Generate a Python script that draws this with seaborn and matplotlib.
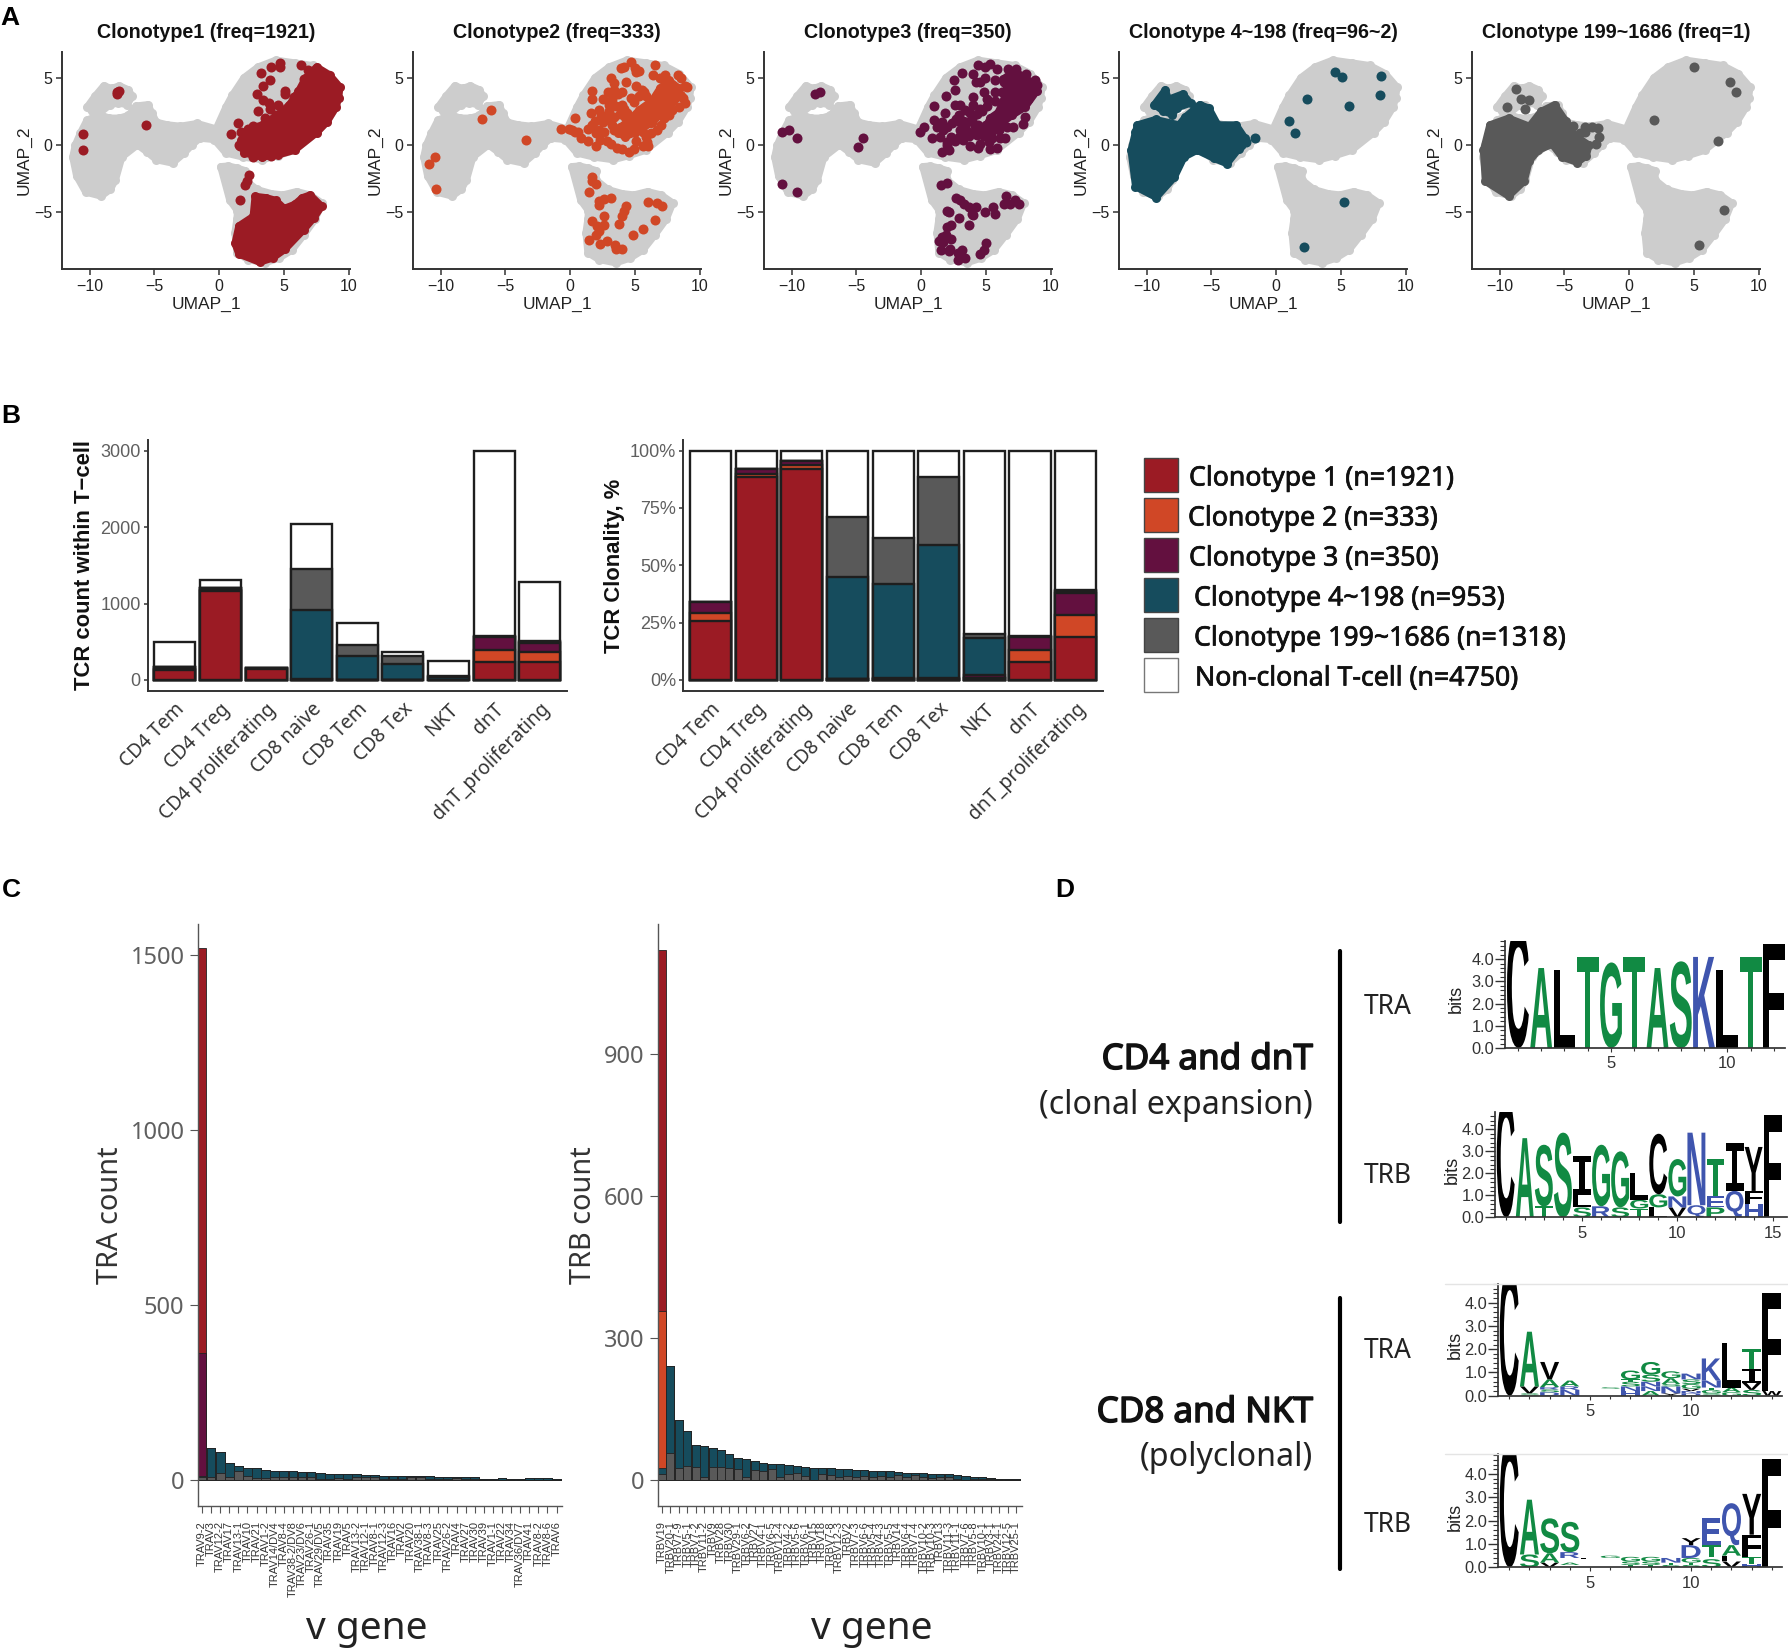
import numpy as np
import pandas as pd
import matplotlib
matplotlib.use("Agg")
import matplotlib.pyplot as plt
import matplotlib.patheffects as pe
import seaborn as sns
from matplotlib.font_manager import FontProperties
from matplotlib.patches import PathPatch, Rectangle
from matplotlib.textpath import TextPath
from matplotlib.ticker import MultipleLocator
from matplotlib.transforms import Affine2D

sns.set_theme(style="ticks")
plt.rcParams["font.family"] = ["Liberation Sans", "DejaVu Sans"]

W, H = 1788, 1650

# colours
RED = "#9B1B24"
ORANGE = "#D04726"
PURPLE = "#63103F"
TEAL = "#164C5D"
GREY = "#595959"
CLOUD = "#CDCDCD"
INK = "#333333"
LOGO_GREEN = "#118A43"
LOGO_BLUE = "#3F55AE"

# ---- panel A: UMAP shapes ----
CLOUD_MAIN_X = [-9.1, -10.3, -11.0, -11.3, -11.1, -10.7, -10.2, -9.3, -9.8, -10.2, -9.6, -8.9, -8.3, -7.7, -7.0, -6.7, -7.1, -7.8, -8.4, -9.3,
                -8.5, -7.7, -7.0, -6.4, -5.5, -5.2, -4.85, -4.0, -3.0, -1.7, -0.25, 0.5, 1.0, 1.9, 3.0, 4.35, 5.8, 7.2, 8.4, 9.3, 9.2, 9.0, 8.3, 7.5, 5.8, 4.5, 3.3, 1.8, 0.5, -0.4, -1.5, -2.1, -2.7, -3.6, -4.85, -5.6, -6.3, -7.5, -8.0, -8.4]
CLOUD_MAIN_Y = [-3.8, -3.5, -2.3, -0.9, 0.0, 0.9, 1.85, 2.2, 2.5, 2.8, 3.6, 4.4, 4.2, 4.4, 4.1, 3.6, 3.0, 3.1, 3.0, 2.3,
                2.0, 2.0, 2.2, 2.9, 3.0, 2.4, 1.7, 1.5, 1.4, 1.6, 1.2, 2.8, 3.7, 5.0, 5.8, 6.3, 6.1, 5.9, 5.3, 4.3, 3.5, 2.8, 1.7, 0.9, -0.4, -0.8, -1.1, -0.9, -0.6, 0.4, 0.5, 0.0, -0.6, -1.35, -1.1, -0.5, 0.0, -0.9, -2.6, -3.3]
CLOUD_LOW_X = [0.1, 0.7, 1.35, 2.0, 2.0, 2.9, 4.0, 4.9, 5.95, 7.0, 7.9, 7.4, 6.5, 5.6, 4.6, 3.5, 2.2, 1.35, 1.2, 1.35, 1.4, 0.8]
CLOUD_LOW_Y = [-1.6, -1.55, -1.7, -1.9, -2.6, -3.3, -3.6, -3.7, -3.45, -3.7, -4.3, -5.5, -6.7, -7.8, -8.4, -8.75, -8.5, -8.0, -6.5, -5.5, -4.9, -4.1]

RED_UP_X = [7.5, 8.5, 9.3, 9.2, 9.0, 8.3, 7.5, 5.8, 4.5, 3.3, 1.9, 1.7, 2.4, 3.6, 4.6, 5.4, 6.1, 6.65]
RED_UP_Y = [5.8, 5.2, 4.3, 3.5, 2.8, 1.7, 0.9, -0.4, -0.75, -0.9, -0.6, 0.4, 1.0, 1.7, 2.3, 3.0, 4.0, 5.0]
RED_LOW_X = [1.2, 1.5, 2.6, 2.75, 3.6, 4.35, 5.0, 5.8, 6.4, 7.0, 7.9, 7.3, 6.5, 5.06, 4.1, 3.1, 1.5]
RED_LOW_Y = [-7.3, -6.0, -5.3, -3.8, -3.9, -4.1, -4.7, -4.4, -3.9, -3.7, -4.55, -5.4, -6.3, -7.75, -8.4, -8.7, -8.1]
RED_DOTS_X = [4.7, 3.95, 3.2, 6.3, 4.7, 3.9, 3.4, 2.9, 3.35, 5.05, 5.05, 5.75, 3.8, 4.55, 4.65, 2.95, 3.9, 1.45, 0.9, 1.7, 2.2, 3.0, 4.35, 6.85, 6.5, 2.25, 2.1, 2.0, 1.6, -10.5, -10.5, -7.85, -7.7, -7.9, -5.65, 1.6, 2.3, 2.6, 3.3, 4.0, 2.4, 2.6, 1.5, 2.0, 3.5]
RED_DOTS_Y = [6.1, 5.8, 5.35, 5.9, 5.8, 4.85, 4.35, 3.75, 3.35, 4.0, 3.75, 3.55, 3.1, 2.95, 2.3, 2.5, 2.65, 1.6, 0.8, 1.0, 1.2, 1.35, 2.2, 5.55, 4.9, -2.25, -2.65, -3.0, -4.05, 0.85, -0.4, 3.95, 4.0, 3.75, 1.45, -0.1, 0.8, -0.9, -0.85, -0.85, 1.0, 1.4, 0.0, -0.3, 2.0]

ORANGE_CORE_X = [3.7, 4.2, 5.0, 6.2, 7.4, 8.5, 8.4, 7.6, 6.9, 6.3, 5.3, 4.5, 3.8]
ORANGE_CORE_Y = [0.9, 0.6, 0.9, 1.6, 2.6, 3.7, 4.2, 4.8, 4.2, 3.3, 2.6, 1.8, 1.3]
ORANGE_DOTS_X = [4.7, 4.1, 3.9, 5.0, 5.3, 5.1, 6.5, 3.1, 3.4, 4.3, 5.1, 5.5, 5.7, 1.7, 1.7, 2.5, 2.9, 3.4, 3.7, 4.0, 3.2, 2.95, 3.5, 4.0, 4.1, 4.9, 4.7, 5.3, 5.8, 6.4, 6.9, 7.3, 8.5, 8.8, 9.0, 8.3, 8.7, 8.8, 8.4, 7.8, 7.6, 7.2, 7.0, 6.7, 6.2, 5.8, 6.3, 5.9, 5.6, 5.3, 5.6, 5.9, 6.0, 5.6, 5.1, 4.9, 4.5, 4.0, 3.6, 3.1, 2.8, 2.3, 1.4, 0.8, 0.6, 0.1, -0.7, -0.1, 0.4, 1.4, 1.7, 2.2, 2.5, 2.9, 3.2, 3.4, 2.6, 2.0, 1.9, 0.4, 1.6, 2.2, 2.4, 3.0, 3.4, 3.8, 4.2, 4.4, 4.8, 2.0,
                   -6.8, -6.1, -3.4, -10.45, -10.85, -10.35,
                   1.7, 1.7, 2.0, 1.45, 3.1, 2.6, 2.2, 2.2, 4.3, 4.1, 4.0, 2.6, 1.7, 6.0, 6.65, 7.1, 6.5, 5.6, 4.8, 3.75, 2.6, 2.05, 2.2, 1.95, 1.45, 2.3, 2.85, 3.45, 3.55, 4.0]
ORANGE_DOTS_Y = [6.15, 5.8, 5.7, 5.75, 5.5, 5.4, 5.9, 5.0, 4.6, 4.7, 4.4, 4.1, 3.9, 4.0, 3.4, 3.4, 3.9, 4.1, 3.8, 3.9, 3.4, 3.0, 2.9, 3.0, 2.7, 3.2, 3.5, 3.6, 3.6, 5.2, 5.0, 5.2, 5.0, 4.4, 4.3, 5.2, 3.5, 3.1, 2.8, 2.6, 2.2, 2.0, 1.5, 1.1, 0.9, 0.6, 1.7, 2.1, 1.8, 1.3, 1.0, 0.2, -0.1, -0.1, 0.3, -0.3, -0.5, -0.3, -0.2, 0.1, 0.3, 0.4, 0.3, 0.5, 1.0, 1.1, 1.2, 1.2, 1.0, 1.2, 1.5, 1.1, 1.7, 1.9, 1.5, 1.1, 1.0, 0.9, 1.8, 2.0, 2.4, 2.6, 2.2, 2.5, 2.1, 2.3, 2.1, 2.4, 2.0, -0.1,
                   1.9, 2.6, 0.4, -0.9, -1.4, -3.25,
                   -2.35, -2.7, -2.9, -3.45, -3.95, -4.0, -4.15, -4.45, -4.55, -4.9, -5.3, -5.25, -5.65, -4.25, -4.3, -4.55, -5.6, -6.2, -6.7, -5.85, -5.95, -6.0, -6.4, -6.7, -7.05, -7.35, -7.15, -7.4, -7.7, -7.75]

PURPLE_CORE_X = [6.3, 7.2, 8.6, 8.9, 8.0, 7.0, 5.8, 5.0, 5.3, 5.9, 6.4, 6.6]
PURPLE_CORE_Y = [4.9, 5.5, 4.6, 4.0, 2.8, 2.2, 1.3, 1.4, 2.0, 2.4, 3.4, 4.2]
PURPLE_DOTS_X = [4.4, 4.9, 5.3, 5.8, 3.1, 2.5, 4.0, 4.9, 5.7, 4.2, 4.55, 2.6, 1.9, 4.8, 5.7, 4.0, 0.95, 1.8, 2.6, 3.0, 4.0, 4.55, 2.9, 3.75, 0.2, -0.1, 0.95, 1.6, 2.0, 1.2, 1.7, 0.8, 1.45, 2.25, 2.0, 1.6, 2.1, 2.0, 3.0, 3.4, 2.9, 3.25, 3.75, 4.4, 4.55, 5.3, 5.8, 5.45, 6.45, 6.1, 5.2, 4.3, 4.9, 6.6, 7.1, 7.85, 8.0, 7.1, 8.1, 8.75, 8.9, 6.7, 7.3, 3.5, 4.4, 3.2, 3.6,
                   3.0, 3.4, 3.9, 4.3, 4.7, 5.1, 4.1, 4.6, 5.0, 5.4, 3.2, 3.7, 4.2, 4.8, 5.4, 6.0, 6.6, 5.7, 6.2, 7.4, 7.9, 8.2, 6.4, 6.9, 5.1, 2.4, 2.7, 2.6,
                   -10.7, -10.2, -9.6, -8.2, -7.8, -4.5, -4.9, -10.7, -9.6,
                   1.5, 2.0, 2.7, 3.0, 3.3, 3.7, 4.2, 3.9, 4.0, 4.9, 5.5, 5.7, 6.5, 6.4, 6.8, 7.2, 7.5, 2.0, 2.1, 2.9, 2.3, 2.0, 3.7, 1.6, 1.9, 1.4, 1.7, 2.3, 1.5, 2.1, 2.2, 2.8, 3.1, 3.0, 2.8, 3.4, 4.5, 4.8, 5.0]
PURPLE_DOTS_Y = [5.9, 5.8, 6.0, 5.65, 5.35, 4.8, 5.3, 5.0, 4.8, 4.7, 4.7, 4.05, 3.65, 3.95, 3.95, 3.55, 2.9, 2.4, 2.95, 2.95, 2.95, 2.7, 2.2, 2.35, 1.35, 1.0, 1.85, 1.7, 1.35, 1.35, 1.1, 0.55, 0.6, 0.6, 0.25, -0.5, -0.35, 0.0, 1.1, 1.35, 0.6, 0.35, -0.1, -0.25, 0.1, -0.3, -0.25, 0.5, 0.55, 0.5, 0.25, 0.75, 1.1, 1.35, 1.35, 1.55, 2.05, 5.4, 5.3, 4.8, 4.45, 5.65, 5.65, 1.7, 1.5, 1.8, 1.0,
                   1.7, 2.6, 1.9, 2.3, 2.5, 2.9, 1.4, 1.0, 1.5, 1.9, 0.9, 0.7, 1.0, 0.7, 0.9, 1.1, 3.0, 3.3, 3.9, 5.0, 4.6, 3.4, 4.7, 5.1, 3.4, 1.6, 1.9, 0.3,
                   1.0, 1.15, 0.55, 3.75, 3.95, 0.55, -0.15, -2.9, -3.45,
                   -3.0, -2.8, -3.9, -4.1, -4.4, -4.6, -4.6, -5.1, -5.2, -5.0, -4.6, -5.1, -3.8, -4.4, -4.35, -4.1, -4.4, -4.9, -4.95, -5.4, -5.9, -6.1, -5.9, -6.8, -6.7, -7.1, -7.2, -7.0, -7.8, -7.9, -7.7, -8.0, -7.8, -8.3, -8.5, -8.4, -8.1, -7.8, -7.3]

TEAL_MAIN_X = [-10.7, -9.3, -7.5, -7.0, -5.9, -5.2, -4.5, -3.1, -2.4, -2.9, -3.8, -4.8, -6.1, -7.1, -7.85, -9.25, -10.85, -11.2, -10.85]
TEAL_MAIN_Y = [1.5, 1.9, 1.5, 2.1, 3.0, 2.75, 1.5, 1.5, 0.5, -0.3, -1.4, -1.0, -0.4, -0.9, -2.4, -3.9, -3.1, -0.4, 1.0]
TEAL_LOBE_X = [-9.4, -8.55, -8.3, -7.2, -6.6, -7.65, -8.0, -8.7]
TEAL_LOBE_Y = [3.0, 4.1, 3.4, 3.8, 3.1, 2.75, 2.25, 2.5]
TEAL_DOTS_X = [4.5, 5.1, 8.1, 8.0, 5.6, 2.4, 1.0, 1.45, -1.65, 5.25, 2.1, -2.3, -2.7]
TEAL_DOTS_Y = [5.45, 5.05, 5.15, 3.7, 2.9, 3.4, 1.75, 0.9, 0.55, -4.25, -7.6, 0.2, 0.0]

DGREY_MAIN_X = [-10.75, -9.3, -7.7, -6.8, -5.75, -4.9, -4.35, -3.1, -3.3, -4.0, -5.2, -5.95, -7.0, -7.7, -8.1, -9.3, -11.1, -11.25]
DGREY_MAIN_Y = [1.5, 2.0, 1.4, 2.5, 3.0, 1.8, 0.8, 0.0, -0.8, -1.3, -0.9, 0.05, -0.4, -1.2, -2.7, -3.8, -2.7, -0.4]
DGREY_DOTS_X = [-8.7, -8.35, -7.7, -8.0, -9.4, 4.95, 7.75, 8.25, 1.9, 6.8, 7.3, 5.4, -4.35, -3.45, -2.9, -2.4, -2.3, -2.55, -3.45, -3.8]
DGREY_DOTS_Y = [4.15, 3.45, 3.35, 2.7, 2.8, 5.8, 4.65, 3.9, 1.85, 0.3, -4.85, -7.45, 1.4, 1.35, 1.35, 1.25, 0.6, 0.1, 1.0, 0.9]

# ---- panel B ----
CELL_TYPES = ["CD4 Tem", "CD4 Treg", "CD4 proliferating", "CD8 naive", "CD8 Tem", "CD8 Tex", "NKT", "dnT", "dnT_proliferating"]
CLONE_1 = [128, 1165, 147, 5, 3, 1, 2, 231, 241]
CLONE_2 = [17, 12, 3, 0, 0, 0, 0, 160, 124]
CLONE_3 = [25, 30, 3, 4, 2, 2, 3, 170, 122]
CLONE_4 = [0, 0, 0, 911, 308, 210, 40, 5, 10]
CLONE_5 = [0, 2, 0, 536, 150, 107, 5, 8, 7]
NON_CLONAL = [330, 105, 7, 590, 283, 42, 198, 2426, 778]

LEGEND_LABELS = ["Clonotype 1 (n=1921)", "Clonotype 2 (n=333)", "Clonotype 3 (n=350)",
                 "Clonotype 4~198 (n=953)", "Clonotype 199~1686 (n=1318)", "Non-clonal T-cell (n=4750)"]

# ---- panel C ----
TRA_GENES = ["TRAV9-2", "TRAV3", "TRAV12-2", "TRAV17", "TRAV13-1", "TRAV10", "TRAV21", "TRAV1-2", "TRAV14/DV4", "TRAV8-4",
             "TRAV38-2/DV8", "TRAV23/DV6", "TRAV26-1", "TRAV29/DV5", "TRAV35", "TRAV19", "TRAV5", "TRAV13-2", "TRAV12-1", "TRAV8-1",
             "TRAV12-3", "TRAV16", "TRAV2", "TRAV20", "TRAV38-1", "TRAV8-3", "TRAV25", "TRAV26-2", "TRAV4", "TRAV27",
             "TRAV30", "TRAV39", "TRAV1-1", "TRAV22", "TRAV34", "TRAV36/DV7", "TRAV41", "TRAV8-2", "TRAV8-6", "TRAV6"]
TRA_GREY = [8, 10, 21, 10, 25, 12, 5, 5, 8, 10, 10, 8, 10, 3, 4, 5, 4, 8, 9, 8, 3, 4, 3, 10, 9, 3, 3, 3, 6, 2, 2, 1, 1, 1, 1, 0, 1, 1, 1, 1]
TRA_TEAL = [4, 83, 59, 40, 15, 23, 30, 25, 19, 17, 17, 14, 12, 16, 14, 13, 14, 8, 6, 6, 9, 8, 9, 2, 3, 10, 7, 7, 4, 6, 6, 1, 1, 4, 3, 2, 4, 4, 4, 2]
TRA_PURPLE = [350] + [0] * 39
TRA_RED = [1158] + [0] * 39

TRB_GENES = ["TRBV19", "TRBV20-1", "TRBV7-9", "TRBV5-1", "TRBV7-2", "TRBV11-2", "TRBV9", "TRBV28", "TRBV30", "TRBV29-1", "TRBV6-2",
             "TRBV27", "TRBV4-1", "TRBV6-5", "TRBV12-4", "TRBV4-2", "TRBV5-6", "TRBV6-1", "TRBV15", "TRBV18", "TRBV7-8", "TRBV12-3",
             "TRBV2", "TRBV7-3", "TRBV6-6", "TRBV5-4", "TRBV4-3", "TRBV5-5", "TRBV14", "TRBV6-4", "TRBV7-4", "TRBV10-2", "TRBV10-3",
             "TRBV13", "TRBV11-3", "TRBV11-1", "TRBV7-6", "TRBV5-8", "TRBV10-1", "TRBV3-1", "TRBV24-1", "TRBV12-5", "TRBV25-1"]
TRB_GREY = [12, 58, 26, 30, 28, 6, 27, 28, 25, 24, 7, 21, 18, 23, 7, 13, 15, 9, 1, 13, 11, 7, 8, 7, 8, 7, 8, 7, 11, 6, 11, 6, 4, 6, 7, 3, 1, 2, 3, 2, 1, 1, 1]
TRB_TEAL = [13, 183, 101, 74, 46, 66, 41, 36, 31, 23, 37, 19, 19, 11, 27, 19, 15, 19, 24, 12, 14, 16, 15, 14, 13, 13, 12, 11, 6, 9, 4, 8, 9, 7, 5, 7, 7, 5, 3, 3, 2, 2, 2]
TRB_ORANGE = [332] + [0] * 42
TRB_RED = [764] + [0] * 42

# ---- panel D: sequence logos, one column per position, (letter, bits) from the bottom up ----
LOGO_CD4_TRA = [[("C", 5.4)], [("A", 3.6)], [("L", 3.5)], [("T", 4.1)], [("G", 3.85)], [("T", 4.1)], [("A", 3.6)], [("S", 3.9)],
                [("K", 4.1)], [("L", 3.5)], [("T", 4.1)], [("F", 4.7)]]
LOGO_CD4_TRB = [[("C", 5.4)], [("A", 3.6)], [("T", 0.5), ("S", 2.8)], [("S", 3.85)], [("S", 0.45), ("L", 0.55), ("I", 1.8)],
                [("R", 0.5), ("G", 2.8)], [("S", 0.45), ("G", 2.55)], [("T", 0.4), ("G", 0.4), ("L", 1.2)],
                [("L", 0.45), ("G", 0.6), ("C", 2.75)], [("V", 0.45), ("N", 0.5), ("G", 1.7)], [("Q", 0.55), ("N", 3.3)],
                [("P", 0.45), ("E", 0.5), ("T", 1.7)], [("Q", 1.2), ("I", 2.2)], [("H", 0.6), ("F", 0.6), ("Y", 2.0)], [("F", 4.65)]]
LOGO_CD8_TRA = [[("C", 5.4)], [("S", 0.1), ("V", 0.3), ("A", 2.35)], [("D", 0.15), ("S", 0.12), ("R", 0.1), ("A", 0.33), ("V", 0.75)],
                [("N", 0.25), ("R", 0.15), ("A", 0.25)], [], [("", 0.3), ("S", 0.06)],
                [("H", 0.2), ("N", 0.2), ("S", 0.2), ("T", 0.1), ("G", 0.38)], [("A", 0.2), ("N", 0.2), ("N", 0.2), ("S", 0.3), ("G", 0.55)],
                [("Y", 0.1), ("N", 0.3), ("S", 0.1), ("A", 0.25), ("G", 0.3)], [("D", 0.1), ("N", 0.1), ("V", 0.1), ("G", 0.2), ("S", 0.2), ("N", 0.25)],
                [("S", 0.1), ("G", 0.15), ("T", 0.1), ("N", 0.3), ("K", 0.95)], [("G", 0.15), ("A", 0.2), ("L", 1.9)],
                [("S", 0.25), ("V", 0.3), ("I", 0.6), ("T", 0.85)], [("W", 0.2), ("F", 4.2)]]
LOGO_CD8_TRB = [[("C", 5.4)], [("S", 0.55), ("A", 2.35)], [("V", 0.2), ("A", 0.4), ("S", 1.5)], [("", 0.1), ("A", 0.1), ("", 0.2), ("R", 0.25), ("S", 1.3)],
                [("", 0.35), ("L", 0.05)], [("", 0.4), ("G", 0.1)], [("T", 0.1), ("S", 0.15), ("G", 0.2)], [("T", 0.1), ("S", 0.15), ("G", 0.2)],
                [("S", 0.1), ("T", 0.1), ("N", 0.2)], [("S", 0.1), ("T", 0.1), ("G", 0.2), ("D", 0.55), ("Y", 0.3)],
                [("S", 0.35), ("", 0.1), ("T", 0.5), ("E", 1.15)], [("V", 0.25), ("L", 0.25), ("A", 0.45), ("Q", 1.8)],
                [("H", 0.15), ("T", 0.3), ("F", 0.95), ("Y", 1.75)], [("F", 4.65)]]

LOGO_COLOURS = {"A": LOGO_GREEN, "G": LOGO_GREEN, "S": LOGO_GREEN, "T": LOGO_GREEN,
                "K": LOGO_BLUE, "R": LOGO_BLUE, "N": LOGO_BLUE, "E": LOGO_BLUE, "Q": LOGO_BLUE, "H": LOGO_BLUE, "D": LOGO_BLUE, "P": LOGO_GREEN}


fig = plt.figure(figsize=(W / 100, H / 100), dpi=100, facecolor="white")


def px_axes(left, top, right, bottom):
    return fig.add_axes([left / W, 1 - bottom / H, (right - left) / W, (bottom - top) / H])


def blob(ax, xs, ys, colour, size=42):
    ax.fill(xs, ys, color=colour, lw=5, joinstyle="round", zorder=2)
    sns.scatterplot(x=xs, y=ys, color=colour, s=size, linewidth=0, legend=False, ax=ax, zorder=2)


def umap_panel(left, title, colour, blobs, dots_x, dots_y):
    ax = px_axes(left, 52, left + 288, 269)
    blob(ax, CLOUD_MAIN_X, CLOUD_MAIN_Y, CLOUD)
    blob(ax, CLOUD_LOW_X, CLOUD_LOW_Y, CLOUD)
    for xs, ys in blobs:
        blob(ax, xs, ys, colour)
    sns.scatterplot(x=dots_x, y=dots_y, color=colour, s=52, linewidth=0, legend=False, ax=ax, zorder=3)
    ax.set_xlim(-12.12, 10.07)
    ax.set_ylim(-9.2, 6.9)
    ax.set_xticks([-10, -5, 0, 5, 10])
    ax.set_yticks([-5, 0, 5])
    ax.tick_params(labelsize=11.5, length=4, width=1.1, color=INK, labelcolor="#222222", pad=3)
    ax.set_xlabel("UMAP_1", fontsize=12.5, color="#222222", labelpad=2.5)
    ax.set_ylabel("UMAP_2", fontsize=12.5, color="#222222", labelpad=1.5)
    ax.set_title(title, fontsize=14.2, fontweight="bold", color="#111111", pad=10)
    for side in ["left", "bottom"]:
        ax.spines[side].set_linewidth(1.4)
        ax.spines[side].set_color(INK)
    sns.despine(ax=ax)


umap_panel(62, "Clonotype1 (freq=1921)", RED, [(RED_UP_X, RED_UP_Y), (RED_LOW_X, RED_LOW_Y)], RED_DOTS_X, RED_DOTS_Y)
umap_panel(413, "Clonotype2 (freq=333)", ORANGE, [(ORANGE_CORE_X, ORANGE_CORE_Y)], ORANGE_DOTS_X, ORANGE_DOTS_Y)
umap_panel(764, "Clonotype3 (freq=350)", PURPLE, [(PURPLE_CORE_X, PURPLE_CORE_Y)], PURPLE_DOTS_X, PURPLE_DOTS_Y)
umap_panel(1119, "Clonotype 4~198 (freq=96~2)", TEAL, [(TEAL_MAIN_X, TEAL_MAIN_Y), (TEAL_LOBE_X, TEAL_LOBE_Y)], TEAL_DOTS_X, TEAL_DOTS_Y)
umap_panel(1472, "Clonotype 199~1686 (freq=1)", GREY, [(DGREY_MAIN_X, DGREY_MAIN_Y)], DGREY_DOTS_X, DGREY_DOTS_Y)


def stacked_bars(ax, labels, series, colours, width, lw, edge):
    # draw running totals tallest first, so each layer shows as one stack segment
    tops = pd.DataFrame(series).T.cumsum(axis=1)
    for col in reversed(list(tops.columns)):
        sns.barplot(x=labels, y=tops[col].values, order=labels, color=colours[col], width=width, saturation=1,
                    edgecolor=edge, linewidth=lw, errorbar=None, ax=ax)


clone_df = pd.DataFrame({"c1": CLONE_1, "c2": CLONE_2, "c3": CLONE_3, "c4": CLONE_4, "c5": CLONE_5, "non": NON_CLONAL}, index=CELL_TYPES)
clone_cols = {"c1": RED, "c2": ORANGE, "c3": PURPLE, "c4": TEAL, "c5": GREY, "non": "white"}
clone_pct = clone_df.div(clone_df.sum(axis=1), axis=0) * 100

ax_count = px_axes(147.5, 440, 567, 691)
stacked_bars(ax_count, CELL_TYPES, clone_df.T.values, list(clone_cols.values()), 0.9, 1.7, "#1e1e1e")
ax_count.set_ylim(-144, 3139)
ax_count.set_yticks([0, 1000, 2000, 3000])
ax_count.set_ylabel("TCR count within T\u2212cell", fontsize=15.8, fontweight="bold", color="#111111", labelpad=4)

ax_pct = px_axes(683.3, 440, 1103, 691)
stacked_bars(ax_pct, CELL_TYPES, clone_pct.T.values, list(clone_cols.values()), 0.9, 1.7, "#1e1e1e")
ax_pct.set_ylim(-4.8, 104.6)
ax_pct.set_yticks([0, 25, 50, 75, 100])
ax_pct.set_yticklabels(["0%", "25%", "50%", "75%", "100%"])
ax_pct.set_ylabel("TCR Clonality, %", fontsize=15.8, fontweight="bold", color="#111111", labelpad=4)

for ax in [ax_count, ax_pct]:
    ax.set_xlim(-0.6, 8.6)
    ax.set_xlabel("")
    ax.tick_params(axis="y", labelsize=13, labelcolor="#5f5f5f", color=INK, length=3, width=1.1, pad=2)
    ax.tick_params(axis="x", length=0, pad=6)
    ax.set_xticks(range(len(CELL_TYPES)))
    ax.set_xticklabels(CELL_TYPES, rotation=45, ha="right", rotation_mode="anchor", fontsize=13.9, family="Noto Sans", color="#333333")
    for side in ["left", "bottom"]:
        ax.spines[side].set_linewidth(1.4)
        ax.spines[side].set_color(INK)
    sns.despine(ax=ax)

# panel C
ax_tra = px_axes(197.7, 924, 561.7, 1506)
stacked_bars(ax_tra, TRA_GENES, np.array([TRA_GREY, TRA_TEAL, TRA_PURPLE, TRA_RED]), [GREY, TEAL, PURPLE, RED], 0.96, 0.6, "#222222")
ax_tra.set_xlim(-0.47, 39.57)
ax_tra.set_ylim(-74, 1588)
ax_tra.set_yticks([0, 500, 1000, 1500])
ax_tra.set_ylabel("TRA count", fontsize=20.8, family="Noto Sans", color="#333333", labelpad=4)

ax_trb = px_axes(657.7, 924, 1022, 1506)
stacked_bars(ax_trb, TRB_GENES, np.array([TRB_GREY, TRB_TEAL, TRB_ORANGE, TRB_RED]), [GREY, TEAL, ORANGE, RED], 0.96, 0.6, "#222222")
ax_trb.set_xlim(-0.51, 42.7)
ax_trb.set_ylim(-55, 1176)
ax_trb.set_yticks([0, 300, 600, 900])
ax_trb.set_ylabel("TRB count", fontsize=20.8, family="Noto Sans", color="#333333", labelpad=4)

for ax, genes in [(ax_tra, TRA_GENES), (ax_trb, TRB_GENES)]:
    ax.set_xlabel("")
    ax.tick_params(axis="y", labelsize=17, labelcolor="#5f5f5f", color="#555555", length=6, width=0.8)
    ax.tick_params(axis="x", length=5, width=0.8, color="#555555", pad=6)
    ax.set_xticks(range(len(genes)))
    ax.set_xticklabels(genes, rotation=90, ha="center", va="top", fontsize=8, color="#333333")
    for lab in ax.get_yticklabels():
        lab.set_family("Noto Sans")
    for side in ["left", "bottom"]:
        ax.spines[side].set_linewidth(1.0)
        ax.spines[side].set_color("#555555")
    sns.despine(ax=ax)


# panel D
LOGO_FONT = FontProperties(family="Liberation Sans", weight="bold")
SERIF_FONT = FontProperties(family="Liberation Mono", weight="bold")


def logo_letter(ax, letter, pos, bottom, height):
    font = SERIF_FONT if letter == "I" else LOGO_FONT
    path = TextPath((0, 0), letter, size=1, prop=font)
    box = path.get_extents()
    width = 0.94
    place = Affine2D().translate(-box.x0, -box.y0).scale(width / box.width, height / box.height).translate(pos - width / 2, bottom)
    ax.add_patch(PathPatch(path, transform=place + ax.transData, fc=LOGO_COLOURS.get(letter, "black"), lw=0))


def logo_panel(rect, xlim, ymax, columns, last_label):
    ax = px_axes(*rect)
    # invisible seaborn bars give the axes its position scale
    sns.barplot(x=list(range(1, len(columns) + 1)), y=[sum(h for _, h in col) for col in columns], native_scale=True,
                color="white", alpha=0, errorbar=None, ax=ax)
    for pos, col in enumerate(columns, start=1):
        bottom = 0
        for letter, height in col:
            if letter:
                logo_letter(ax, letter, pos, bottom, height)
            bottom += height
    ax.set_xlim(*xlim)
    ax.set_ylim(0, ymax)
    ax.set_xticks(range(5, last_label + 1, 5))
    ax.xaxis.set_minor_locator(MultipleLocator(1))
    ax.set_yticks([0, 1, 2, 3, 4])
    ax.set_yticklabels(["0.0", "1.0", "2.0", "3.0", "4.0"])
    ax.yaxis.set_minor_locator(MultipleLocator(0.2))
    ax.tick_params(axis="y", which="major", length=7, width=1, labelsize=11.8, color=INK, labelcolor=INK, pad=1)
    ax.tick_params(axis="y", which="minor", length=3.5, width=0.8, color=INK)
    ax.tick_params(axis="x", which="major", length=3, width=0.8, labelsize=12, color=INK, labelcolor=INK, pad=3)
    ax.tick_params(axis="x", which="minor", length=2, width=0.8, color=INK)
    ax.spines["left"].set_color(INK)
    ax.spines["bottom"].set_color(INK)
    ax.patch.set_alpha(0)
    sns.despine(ax=ax)


logo_panel((1505, 940.7, 1785, 1048), (0.445, 12.48), 4.83, LOGO_CD4_TRA, 10)
logo_panel((1495, 1112, 1787, 1217.3), (0.44, 15.75), 4.79, LOGO_CD4_TRB, 15)
logo_panel((1498, 1284, 1782, 1395.7), (0.445, 14.5), 4.8, LOGO_CD8_TRA, 10)
logo_panel((1498, 1454, 1782, 1567.3), (0.445, 14.5), 4.86, LOGO_CD8_TRB, 10)

# overlay in picture pixels for the labels, legend and brackets
ov = fig.add_axes([0, 0, 1, 1], zorder=10)
ov.set_xlim(0, W)
ov.set_ylim(H, 0)
ov.axis("off")

for letter, x, y in [("A", 10, 18), ("B", 11, 416), ("C", 11, 890), ("D", 1065, 890)]:
    ov.text(x, y, letter, fontsize=19, fontweight="bold", ha="center", va="center", color="black")

legend_cols = [RED, ORANGE, PURPLE, TEAL, GREY, "white"]
legend_text_x = [1189, 1188, 1189, 1194, 1194, 1195]
for i, (label, col) in enumerate(zip(LEGEND_LABELS, legend_cols)):
    top = 458 + i * 40
    ov.add_patch(Rectangle((1144, top), 34, 33.5, fc=col, ec="#777777" if col == "white" else "#444444", lw=1))
    ov.text(legend_text_x[i], top + 20.5, label, fontsize=19.2, family="Noto Sans", ha="left", va="center", color="#111111",
            path_effects=[pe.withStroke(linewidth=0.5, foreground="#111111")])

for top, bottom in [(951, 1222), (1298, 1569)]:
    ov.plot([1340, 1340], [top, bottom], color="black", lw=3)
for y in [1284, 1454]:
    ov.plot([1445, 1788], [y, y], color="#e4e4e4", lw=1)
for label, y in [("TRA", 1007), ("TRB", 1176), ("TRA", 1351), ("TRB", 1525)]:
    ov.text(1388, y, label, fontsize=19, family="Noto Sans", ha="center", va="center", color="#222222")
for x, y in [(1456, 999), (1452, 1170), (1455, 1345), (1455, 1517)]:
    ov.text(x, y, "bits", fontsize=13, rotation=90, ha="center", va="center", color="#222222")

# Noto Sans has no bold cut here, so the bold lines get a thin stroke
heavy = [pe.withStroke(linewidth=1.1, foreground="#111111")]
ov.text(1313, 1060, "CD4 and dnT", fontsize=25.2, family="Noto Sans", ha="right", va="center", color="#111111", path_effects=heavy)
ov.text(1313, 1106, "(clonal expansion)", fontsize=23.2, family="Noto Sans", ha="right", va="center", color="#222222")
ov.text(1313, 1413, "CD8 and NKT", fontsize=25.2, family="Noto Sans", ha="right", va="center", color="#111111", path_effects=heavy)
ov.text(1313, 1457, "(polyclonal)", fontsize=23.2, family="Noto Sans", ha="right", va="center", color="#222222")
ov.text(367, 1629, "v gene", fontsize=28, family="Noto Sans", ha="center", va="center", color="#222222")
ov.text(872, 1629, "v gene", fontsize=28, family="Noto Sans", ha="center", va="center", color="#222222")

fig.savefig("out.png", dpi=100, facecolor="white")
